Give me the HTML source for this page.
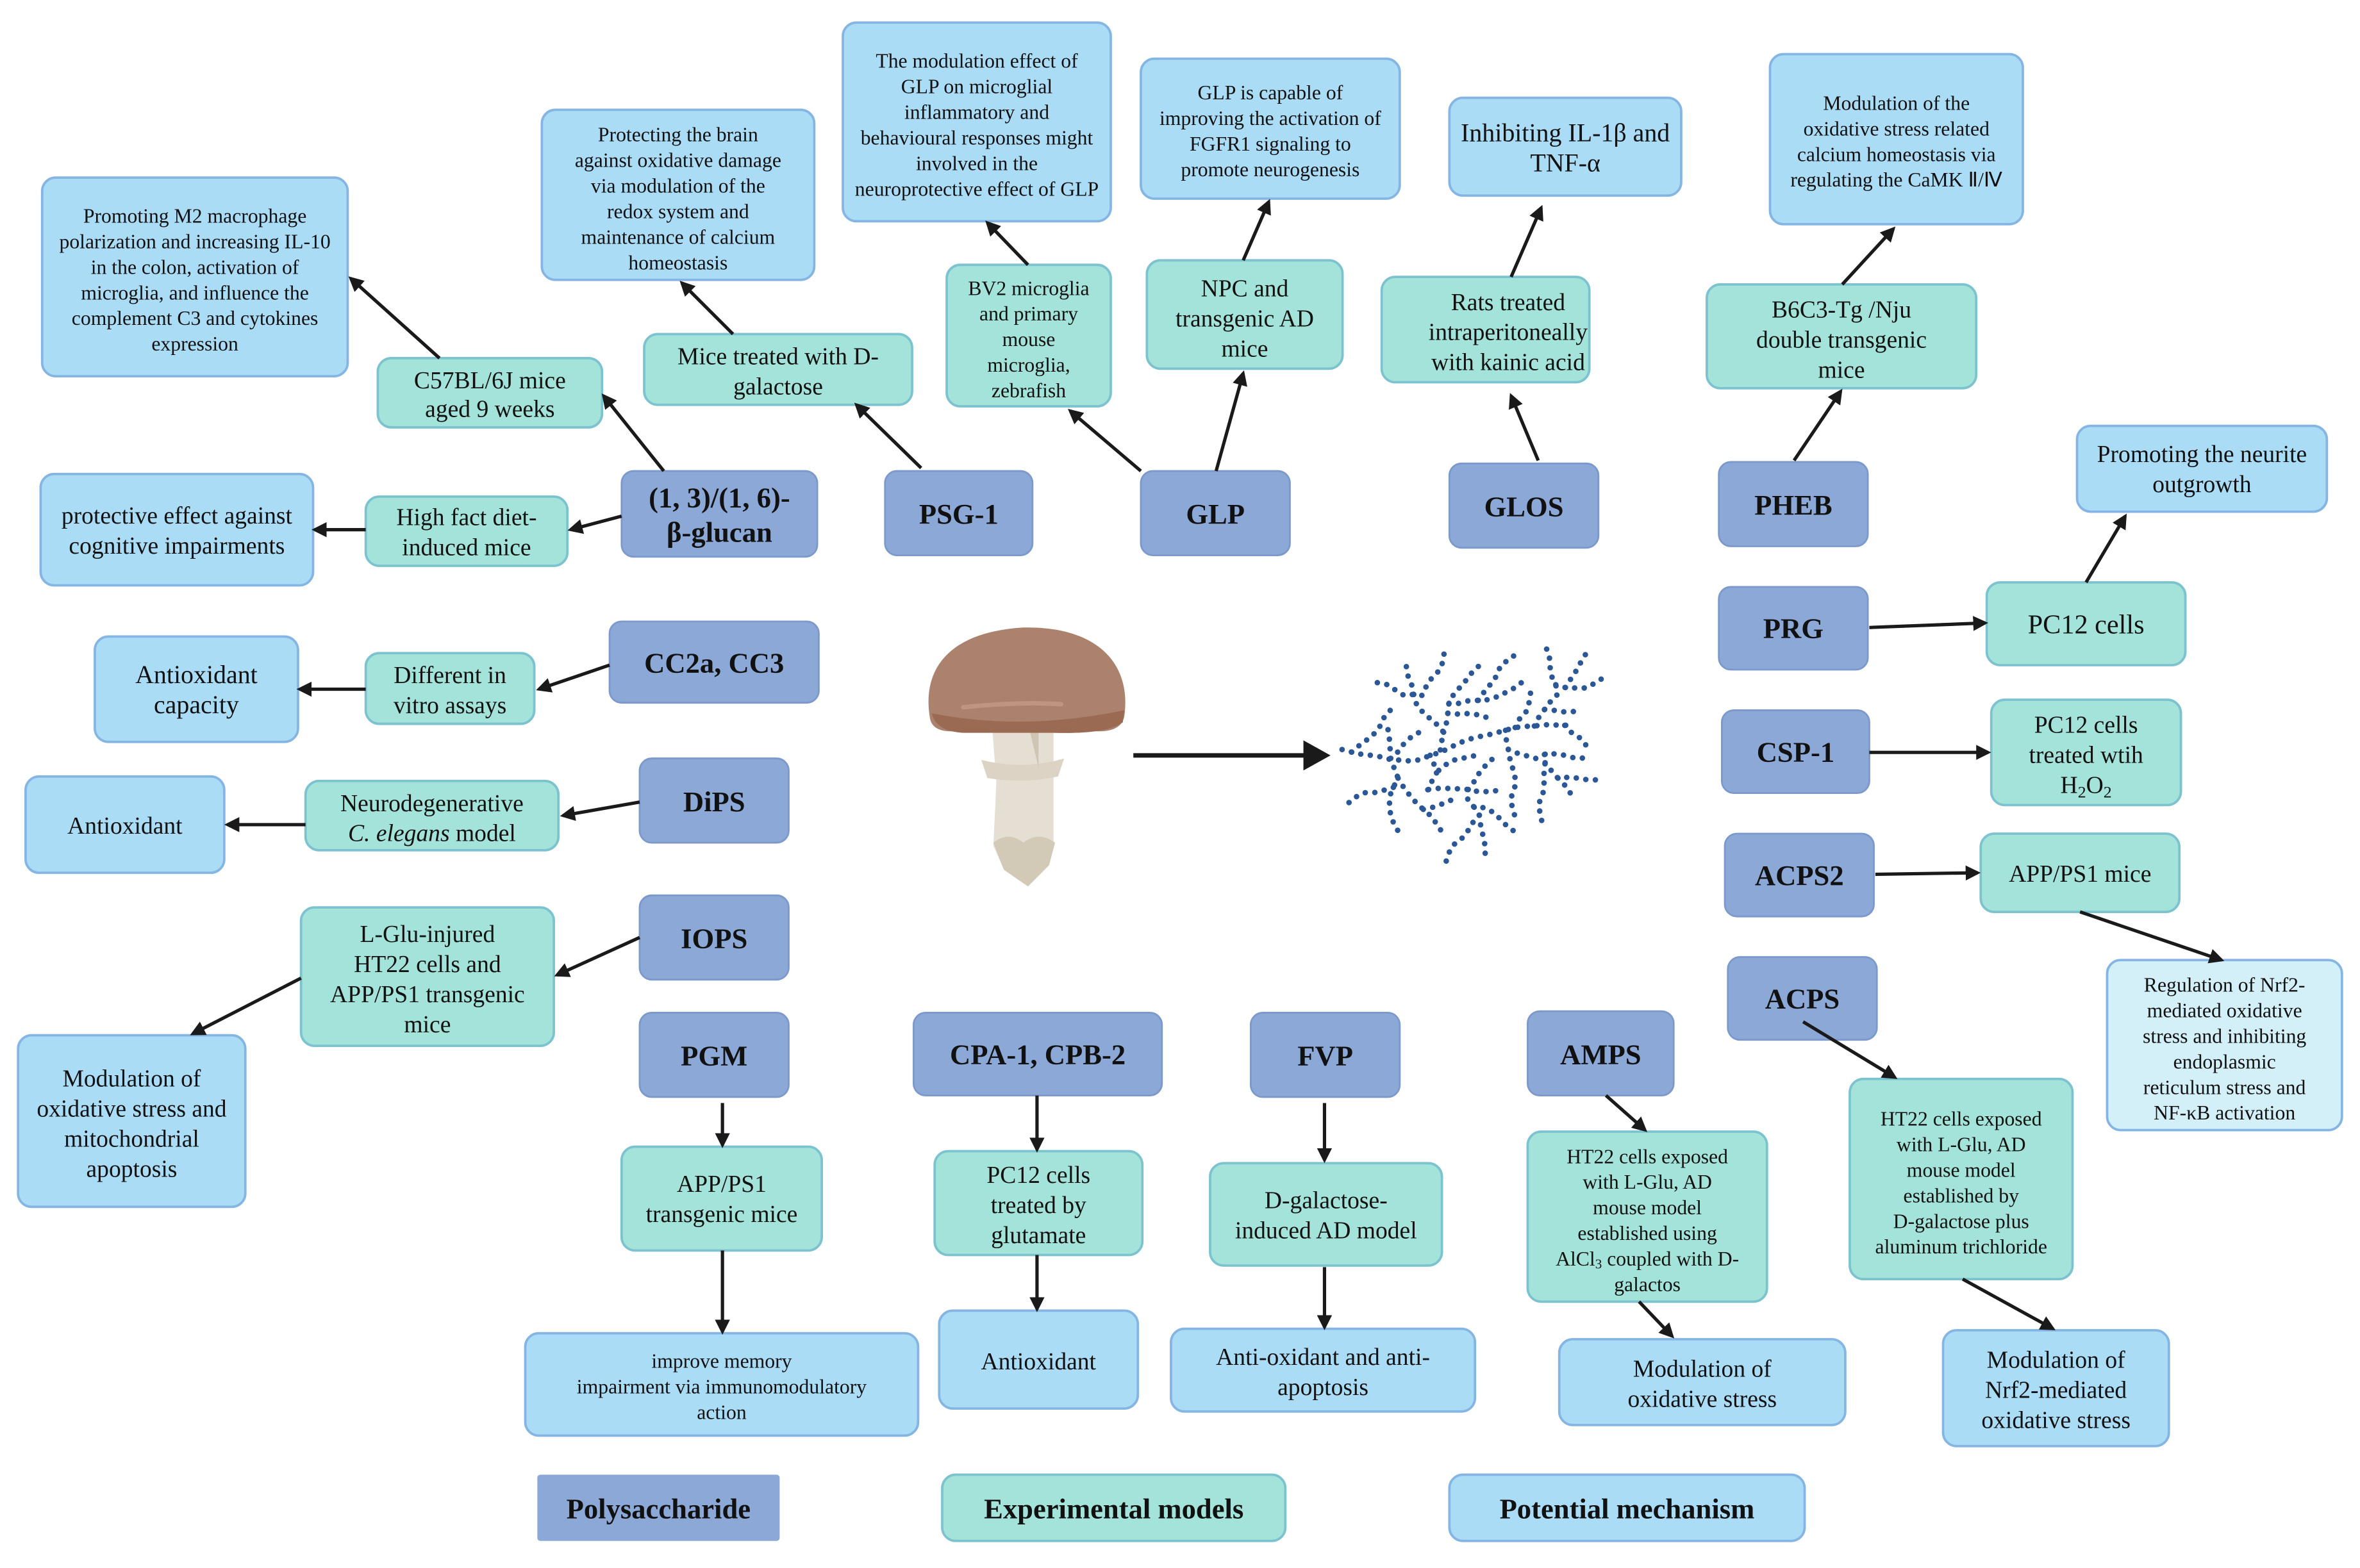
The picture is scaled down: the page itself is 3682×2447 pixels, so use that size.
<!DOCTYPE html>
<html><head><meta charset="utf-8"><style>
html,body{margin:0;padding:0;background:#fff;}
svg{display:block;}
text{font-family:"Liberation Serif",serif;fill:#111;text-anchor:middle;}
.p{fill:#abdcf6;stroke:#85b5e3;stroke-width:1.6;}
.e{fill:#a3e3d9;stroke:#7cc3cf;stroke-width:1.6;}
.d{fill:#8ba8d7;stroke:#7c99cb;stroke-width:1.2;}
.b{font-weight:bold;font-size:19px;}
.a{stroke:#1a1a1a;stroke-width:2.2;fill:none;marker-end:url(#ah);}
.dots{stroke:#2b5797;stroke-width:26;stroke-linecap:round;stroke-dasharray:0 45;fill:none;}
</style></head><body>
<svg width="3682" height="2447" viewBox="0 0 1568 1042" preserveAspectRatio="none" xmlns="http://www.w3.org/2000/svg">
<defs><marker id="ah" markerWidth="10" markerHeight="10" refX="8" refY="5" orient="auto" markerUnits="userSpaceOnUse"><path d="M0,0 L10,5 L0,10 z" fill="#1a1a1a"/></marker></defs>

<rect class="p" x="28" y="118" width="203" height="132" rx="9"/>
<text font-size="13.5"><tspan x="129.5" y="148">Promoting M2 macrophage</tspan><tspan x="129.5" y="165">polarization and increasing IL-10</tspan><tspan x="129.5" y="182">in the colon, activation of</tspan><tspan x="129.5" y="199">microglia, and influence the</tspan><tspan x="129.5" y="216">complement C3 and cytokines</tspan><tspan x="129.5" y="233">expression</tspan></text>

<rect class="p" x="360" y="73" width="181" height="113" rx="9"/>
<text font-size="13.5"><tspan x="450.5" y="94">Protecting the brain</tspan><tspan x="450.5" y="111">against oxidative damage</tspan><tspan x="450.5" y="128">via modulation of the</tspan><tspan x="450.5" y="145">redox system and</tspan><tspan x="450.5" y="162">maintenance of calcium</tspan><tspan x="450.5" y="179">homeostasis</tspan></text>

<rect class="p" x="560" y="15" width="178" height="132" rx="9"/>
<text font-size="13.5"><tspan x="649" y="45">The modulation effect of</tspan><tspan x="649" y="62">GLP on microglial</tspan><tspan x="649" y="79">inflammatory and</tspan><tspan x="649" y="96">behavioural responses might</tspan><tspan x="649" y="113">involved in the</tspan><tspan x="649" y="130">neuroprotective effect of GLP</tspan></text>

<rect class="p" x="758" y="39" width="172" height="93" rx="9"/>
<text font-size="13.5"><tspan x="844" y="66">GLP is capable of</tspan><tspan x="844" y="83">improving the activation of</tspan><tspan x="844" y="100">FGFR1 signaling to</tspan><tspan x="844" y="117">promote neurogenesis</tspan></text>

<rect class="p" x="963" y="65" width="154" height="65" rx="9"/>
<text font-size="17"><tspan x="1040" y="94">Inhibiting IL-1β and</tspan><tspan x="1040" y="114">TNF-α</tspan></text>

<rect class="p" x="1176" y="36" width="168" height="113" rx="9"/>
<text font-size="13.5"><tspan x="1260" y="73">Modulation of the</tspan><tspan x="1260" y="90">oxidative stress   related</tspan><tspan x="1260" y="107">calcium homeostasis via</tspan><tspan x="1260" y="124">regulating the CaMK Ⅱ/Ⅳ</tspan></text>

<rect class="p" x="27" y="315" width="181" height="74" rx="9"/>
<text font-size="16"><tspan x="117.5" y="348">protective effect against</tspan><tspan x="117.5" y="368">cognitive impairments</tspan></text>

<rect class="p" x="1380" y="283" width="166" height="57" rx="9"/>
<text font-size="16"><tspan x="1463" y="307">Promoting the neurite</tspan><tspan x="1463" y="327">outgrowth</tspan></text>

<rect class="p" x="63" y="423" width="135" height="70" rx="9"/>
<text font-size="17"><tspan x="130.5" y="454">Antioxidant</tspan><tspan x="130.5" y="474">capacity</tspan></text>

<rect class="p" x="17" y="516" width="132" height="64" rx="9"/>
<text font-size="16" x="83" y="554">Antioxidant</text>

<rect class="p" x="12" y="688" width="151" height="114" rx="9"/>
<text font-size="16"><tspan x="87.5" y="722">Modulation of</tspan><tspan x="87.5" y="742">oxidative stress and</tspan><tspan x="87.5" y="762">mitochondrial</tspan><tspan x="87.5" y="782">apoptosis</tspan></text>

<rect x="1400" y="638" width="156" height="113" rx="9" fill="#d3eff8" stroke="#85b5e3" stroke-width="1.6"/>
<text font-size="13.5"><tspan x="1478" y="659">Regulation of Nrf2-</tspan><tspan x="1478" y="676">mediated oxidative</tspan><tspan x="1478" y="693">stress and inhibiting</tspan><tspan x="1478" y="710">endoplasmic</tspan><tspan x="1478" y="727">reticulum stress and</tspan><tspan x="1478" y="744">NF-κB activation</tspan></text>

<rect class="p" x="349" y="886" width="261" height="68" rx="9"/>
<text font-size="13.5"><tspan x="479.5" y="909">improve memory</tspan><tspan x="479.5" y="926">impairment via immunomodulatory</tspan><tspan x="479.5" y="943">action</tspan></text>

<rect class="p" x="624" y="871" width="132" height="65" rx="9"/>
<text font-size="16" x="690" y="910">Antioxidant</text>

<rect class="p" x="778" y="883" width="202" height="55" rx="9"/>
<text font-size="16"><tspan x="879" y="907">Anti-oxidant and anti-</tspan><tspan x="879" y="927">apoptosis</tspan></text>

<rect class="p" x="1036" y="890" width="190" height="57" rx="9"/>
<text font-size="16"><tspan x="1131" y="915">Modulation of</tspan><tspan x="1131" y="935">oxidative stress</tspan></text>

<rect class="p" x="1291" y="884" width="150" height="77" rx="9"/>
<text font-size="16"><tspan x="1366" y="909">Modulation of</tspan><tspan x="1366" y="929">Nrf2-mediated</tspan><tspan x="1366" y="949">oxidative stress</tspan></text>

<rect class="e" x="251" y="238" width="149" height="46" rx="9"/>
<text font-size="16"><tspan x="325.5" y="258">C57BL/6J mice</tspan><tspan x="325.5" y="277">aged 9 weeks</tspan></text>

<rect class="e" x="428" y="222" width="178" height="47" rx="9"/>
<text font-size="16"><tspan x="517" y="242">Mice treated with D-</tspan><tspan x="517" y="262">galactose</tspan></text>

<rect class="e" x="629" y="176" width="109" height="94" rx="9"/>
<text font-size="13.5"><tspan x="683.5" y="196">BV2 microglia</tspan><tspan x="683.5" y="213">and primary</tspan><tspan x="683.5" y="230">mouse</tspan><tspan x="683.5" y="247">microglia,</tspan><tspan x="683.5" y="264">zebrafish</tspan></text>

<rect class="e" x="762" y="173" width="130" height="72" rx="9"/>
<text font-size="16"><tspan x="827" y="197">NPC and</tspan><tspan x="827" y="217">transgenic AD</tspan><tspan x="827" y="237">mice</tspan></text>

<rect class="e" x="918" y="184" width="138" height="70" rx="9"/>
<text font-size="16"><tspan x="1002" y="206">Rats treated</tspan><tspan x="1002" y="226">intraperitoneally</tspan><tspan x="1002" y="246">with kainic acid</tspan></text>

<rect class="e" x="1134" y="189" width="179" height="69" rx="9"/>
<text font-size="16"><tspan x="1223.5" y="211">B6C3-Tg /Nju</tspan><tspan x="1223.5" y="231">double transgenic</tspan><tspan x="1223.5" y="251">mice</tspan></text>

<rect class="e" x="243" y="330" width="134" height="46" rx="9"/>
<text font-size="16"><tspan x="310" y="349">High fact diet-</tspan><tspan x="310" y="369">induced mice</tspan></text>

<rect class="e" x="1320" y="387" width="132" height="55" rx="9"/>
<text font-size="18" x="1386" y="421">PC12  cells</text>

<rect class="e" x="243" y="434" width="112" height="47" rx="9"/>
<text font-size="16"><tspan x="299" y="454">Different in</tspan><tspan x="299" y="474">vitro assays</tspan></text>

<rect class="e" x="1323" y="465" width="126" height="70" rx="9"/>
<text font-size="16"><tspan x="1386" y="487">PC12  cells</tspan><tspan x="1386" y="507">treated wtih</tspan><tspan x="1386" y="527">H<tspan font-size="11" dy="3">2</tspan><tspan dy="-3">O</tspan><tspan font-size="11" dy="3">2</tspan></tspan></text>

<rect class="e" x="203" y="519" width="168" height="46" rx="9"/>
<text font-size="16"><tspan x="287" y="539">Neurodegenerative</tspan><tspan x="287" y="559"><tspan font-style="italic">C. elegans</tspan> model</tspan></text>

<rect class="e" x="1316" y="554" width="132" height="52" rx="9"/>
<text font-size="16" x="1382" y="586">APP/PS1 mice</text>

<rect class="e" x="200" y="603" width="168" height="92" rx="9"/>
<text font-size="16"><tspan x="284" y="626">L-Glu-injured</tspan><tspan x="284" y="646">HT22 cells and</tspan><tspan x="284" y="666">APP/PS1 transgenic</tspan><tspan x="284" y="686">mice</tspan></text>

<rect class="e" x="413" y="762" width="133" height="69" rx="9"/>
<text font-size="16"><tspan x="479.5" y="792">APP/PS1</tspan><tspan x="479.5" y="812">transgenic mice</tspan></text>

<rect class="e" x="621" y="765" width="138" height="69" rx="9"/>
<text font-size="16"><tspan x="690" y="786">PC12 cells</tspan><tspan x="690" y="806">treated by</tspan><tspan x="690" y="826">glutamate</tspan></text>

<rect class="e" x="804" y="773" width="154" height="68" rx="9"/>
<text font-size="16"><tspan x="881" y="803">D-galactose-</tspan><tspan x="881" y="823">induced AD model</tspan></text>

<rect class="e" x="1015" y="752" width="159" height="113" rx="9"/>
<text font-size="13.5"><tspan x="1094.5" y="773">HT22 cells exposed</tspan><tspan x="1094.5" y="790">with L-Glu, AD</tspan><tspan x="1094.5" y="807">mouse model</tspan><tspan x="1094.5" y="824">established using</tspan><tspan x="1094.5" y="841">AlCl<tspan font-size="9" dy="2">3</tspan><tspan dy="-2"> coupled with  D-</tspan></tspan><tspan x="1094.5" y="858">galactos</tspan></text>

<rect class="e" x="1229" y="717" width="148" height="133" rx="9"/>
<text font-size="13.5"><tspan x="1303" y="748">HT22 cells exposed</tspan><tspan x="1303" y="765">with L-Glu, AD</tspan><tspan x="1303" y="782">mouse model</tspan><tspan x="1303" y="799">established by</tspan><tspan x="1303" y="816">D-galactose plus</tspan><tspan x="1303" y="833">aluminum trichloride</tspan></text>

<rect class="d" x="413" y="313" width="130" height="57" rx="8"/>
<text class="b"><tspan x="478" y="337">(1, 3)/(1, 6)-</tspan><tspan x="478" y="360">β-glucan</tspan></text>
<rect class="d" x="588" y="313" width="98" height="56" rx="8"/><text class="b" x="637" y="348">PSG-1</text>
<rect class="d" x="758" y="313" width="99" height="56" rx="8"/><text class="b" x="807.5" y="348">GLP</text>
<rect class="d" x="963" y="308" width="99" height="56" rx="8"/><text class="b" x="1012.5" y="343">GLOS</text>
<rect class="d" x="1142" y="307" width="99" height="56" rx="8"/><text class="b" x="1191.5" y="342">PHEB</text>
<rect class="d" x="1142" y="390" width="99" height="55" rx="8"/><text class="b" x="1191.5" y="424">PRG</text>
<rect class="d" x="405" y="413" width="139" height="54" rx="8"/><text class="b" x="474.5" y="447">CC2a, CC3</text>
<rect class="d" x="1144" y="472" width="98" height="55" rx="8"/><text class="b" x="1193" y="506">CSP-1</text>
<rect class="d" x="425" y="504" width="99" height="56" rx="8"/><text class="b" x="474.5" y="539">DiPS</text>
<rect class="d" x="1146" y="554" width="99" height="55" rx="8"/><text class="b" x="1195.5" y="588">ACPS2</text>
<rect class="d" x="425" y="595" width="99" height="56" rx="8"/><text class="b" x="474.5" y="630">IOPS</text>
<rect class="d" x="1148" y="636" width="99" height="55" rx="8"/><text class="b" x="1197.5" y="670">ACPS</text>
<rect class="d" x="425" y="673" width="99" height="56" rx="8"/><text class="b" x="474.5" y="708">PGM</text>
<rect class="d" x="607" y="673" width="165" height="55" rx="8"/><text class="b" x="689.5" y="707">CPA-1, CPB-2</text>
<rect class="d" x="831" y="673" width="99" height="56" rx="8"/><text class="b" x="880.5" y="708">FVP</text>
<rect class="d" x="1015" y="672" width="97" height="56" rx="8"/><text class="b" x="1063.5" y="707">AMPS</text>

<rect x="357" y="980" width="161" height="44" rx="2" fill="#8ba8d7"/><text class="b" font-size="18" x="437.5" y="1009">Polysaccharide</text>
<rect class="e" x="626" y="980" width="228" height="44" rx="9"/><text class="b" font-size="18" x="740" y="1009">Experimental models</text>
<rect class="p" x="963" y="980" width="236" height="44" rx="9"/><text class="b" font-size="18" x="1081" y="1009">Potential mechanism</text>

<line class="a" x1="441" y1="313" x2="401" y2="263"/>
<line class="a" x1="292" y1="238" x2="233" y2="185"/>
<line class="a" x1="413" y1="343" x2="379" y2="352"/>
<line class="a" x1="243" y1="352" x2="209" y2="352"/>
<line class="a" x1="612" y1="311" x2="569" y2="269"/>
<line class="a" x1="487" y1="222" x2="453" y2="188"/>
<line class="a" x1="758" y1="313" x2="711" y2="273"/>
<line class="a" x1="683" y1="176" x2="656" y2="148"/>
<line class="a" x1="808" y1="313" x2="826" y2="248"/>
<line class="a" x1="826" y1="173" x2="843" y2="134"/>
<line class="a" x1="1022" y1="306" x2="1004" y2="263"/>
<line class="a" x1="1004" y1="184" x2="1024" y2="138"/>
<line class="a" x1="1192" y1="306" x2="1223" y2="260"/>
<line class="a" x1="1224" y1="189" x2="1258" y2="152"/>
<line class="a" x1="1242" y1="417" x2="1319" y2="414"/>
<line class="a" x1="1386" y1="387" x2="1412" y2="343"/>
<line class="a" x1="405" y1="442" x2="358" y2="458"/>
<line class="a" x1="243" y1="458" x2="199" y2="458"/>
<line class="a" x1="1242" y1="500" x2="1321" y2="500"/>
<line class="a" x1="425" y1="533" x2="374" y2="542"/>
<line class="a" x1="203" y1="548" x2="151" y2="548"/>
<line class="a" x1="1246" y1="581" x2="1314" y2="580"/>
<line class="a" x1="1382" y1="606" x2="1476" y2="638"/>
<line class="a" x1="425" y1="623" x2="370" y2="648"/>
<line class="a" x1="200" y1="650" x2="128" y2="687"/>
<line class="a" x1="1198" y1="679" x2="1259" y2="716"/>
<line class="a" x1="1304" y1="850" x2="1364" y2="883"/>
<line class="a" x1="480" y1="733" x2="480" y2="761"/>
<line class="a" x1="480" y1="831" x2="480" y2="885"/>
<line class="a" x1="689" y1="728" x2="689" y2="764"/>
<line class="a" x1="689" y1="834" x2="689" y2="870"/>
<line class="a" x1="880" y1="733" x2="880" y2="771"/>
<line class="a" x1="880" y1="842" x2="880" y2="882"/>
<line class="a" x1="1067" y1="728" x2="1093" y2="751"/>
<line class="a" x1="1089" y1="865" x2="1111" y2="888"/>
<line x1="753" y1="502" x2="868" y2="502" stroke="#1a1a1a" stroke-width="3"/>
<path d="M866,492 L884,502 L866,512 z" fill="#1a1a1a"/>

<!-- Mushroom -->
<path d="M659,480 L700,480 L700,560 L697,575 L683,589 L667,578 L660,562 L662,520 Z" fill="#e4ded3"/>
<path d="M652,505 Q680,512 707,504 L703,516 Q680,521 656,517 Z" fill="#dcd3c4"/>
<path d="M660,560 Q670,552 680,560 Q690,552 701,560 L697,575 L683,589 L667,578 Z" fill="#d2c9b6"/>
<path d="M684,485 L690,480 L690,510 Z" fill="#d0c5b2"/>
<path d="M618,478 C612,445 630,420 680,417 C728,416 752,440 747,476 Q745,486 730,486 L632,486 Q620,486 618,478 Z" fill="#ab826d"/>
<path d="M619,474 Q680,486 747,472 L746,480 Q735,488 700,487 L640,487 Q622,486 619,474 Z" fill="#9a6a52"/>
<path d="M640,470 Q680,466 705,468" stroke="#bd9580" stroke-width="3" fill="none" stroke-linecap="round"/>

<!-- Polysaccharide chain -->
<g transform="translate(886,416) scale(0.142)">
<g class="dots">
<polyline points="40,578 85,590 130,600 175,605 220,612 268,625 315,628 362,632 408,625 452,605 498,592 540,572 582,550 625,533 668,520 714,512 760,500 805,488 850,475 895,470 940,468 988,462 1035,463 1082,465 1130,460"/>
<polyline points="85,590 125,555 160,530 198,497 222,462 240,420 275,385"/>
<polyline points="255,485 262,533 265,578 268,625 285,668 302,712 280,755 262,798 262,845 268,888 285,932 310,972"/>
<polyline points="280,755 237,768 190,780 145,780 105,800 68,830"/>
<polyline points="302,712 325,750 355,790 385,825 420,858 455,888 482,925 508,965"/>
<polyline points="420,858 465,848 510,832 550,815"/>
<polyline points="300,590 330,550 365,518 405,495"/>
<polyline points="205,265 255,275 290,300 330,325 375,320 415,325 435,280 462,240 493,210 510,172 518,125"/>
<polyline points="375,320 365,272 347,230 340,185"/>
<polyline points="375,320 388,365 415,400 450,432 485,462 515,497 505,545 498,592"/>
<polyline points="515,497 528,455 535,408 540,362 562,320 593,285 622,252 652,212 688,180"/>
<polyline points="535,408 580,412 625,410 672,415 718,428"/>
<polyline points="540,362 585,362 630,350 677,348 722,345 768,330 808,310 850,288 888,258"/>
<polyline points="677,348 705,308 735,272 762,235 780,190 812,162 850,135"/>
<polyline points="452,605 485,682 463,720 445,765 400,778"/>
<polyline points="655,608 608,618 562,628 520,652 485,682"/>
<polyline points="445,765 490,760 540,760 585,762 630,765 678,775 722,775 768,770"/>
<polyline points="630,765 628,812 658,848 705,850 748,872 782,905 815,940 852,965"/>
<polyline points="658,848 682,885 688,930 698,975 708,1022 710,1072"/>
<polyline points="682,885 650,922 625,965 595,1000 560,1025 538,1065 525,1108"/>
<polyline points="630,765 658,728 683,686 712,652 748,618"/>
<polyline points="805,488 808,530 818,578 825,620 838,665 850,712 848,758 832,800 835,845 848,888"/>
<polyline points="818,578 860,595 905,608 948,620 990,600 1038,598 1082,605 1128,618 1175,618"/>
<polyline points="990,600 990,640 985,690 985,738 980,785 962,828 965,870 975,915"/>
<polyline points="990,640 1020,678 1050,712 1098,708 1145,712 1190,720 1238,720"/>
<polyline points="1050,712 1085,748 1110,785"/>
<polyline points="850,475 872,432 902,400 915,358 922,312"/>
<polyline points="940,468 960,428 988,390 1018,350 1048,320 1040,275 1018,230 1012,182 1010,140 992,95"/>
<polyline points="1040,275 1085,288 1130,290 1180,290 1218,270 1258,245"/>
<polyline points="1085,288 1110,248 1135,210 1158,168 1182,128"/>
<polyline points="988,390 1035,395 1080,402 1128,400"/>
<polyline points="1082,465 1115,500 1155,525 1185,562"/>
</g>
</g>
</svg>
</body></html>
